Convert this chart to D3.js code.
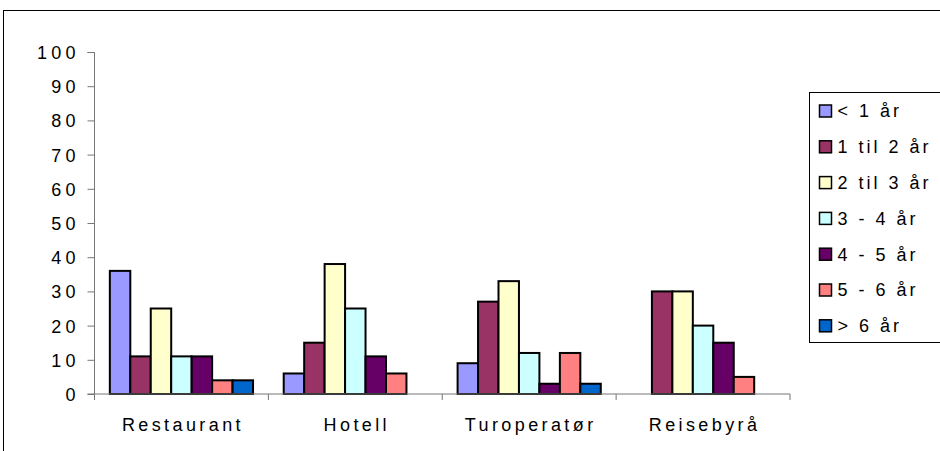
<!DOCTYPE html>
<html>
<head>
<meta charset="utf-8">
<script src="https://cdn.jsdelivr.net/npm/d3@7/dist/d3.min.js"></script>
<style>
  html, body { margin: 0; padding: 0; background: #fff; }
  svg { display: block; }
  text { font-family: "Liberation Sans", Arial, sans-serif; fill: #000; }
</style>
</head>
<body>
<svg id="chart" width="940" height="451"></svg>
<script>
// Categories and series (share in percent per time span)
const categories = ["Restaurant", "Hotell", "Turoperatør", "Reisebyrå"];
const seriesNames = ["< 1 år", "1 til 2 år", "2 til 3 år", "3 - 4 år", "4 - 5 år", "5 - 6 år", "> 6 år"];
const seriesColors = ["#9999FF", "#993366", "#FFFFCC", "#CCFFFF", "#660066", "#FF8080", "#0066CC"];
const lessThan1 = [36, 6, 9, 0];
const from1to2 = [11, 15, 27, 30];
const from2to3 = [25, 38, 33, 30];
const from3to4 = [11, 25, 12, 20];
const from4to5 = [11, 11, 3, 15];
const from5to6 = [4, 6, 12, 5];
const moreThan6 = [4, 0, 3, 0];
const yTicks = [0, 10, 20, 30, 40, 50, 60, 70, 80, 90, 100];

const seriesValues = [lessThan1, from1to2, from2to3, from3to4, from4to5, from5to6, moreThan6];

const svg = d3.select("#chart");

// Outer chart frame
svg.append("rect")
  .attr("x", 3.5).attr("y", 10.5)
  .attr("width", 1000).attr("height", 500)
  .attr("fill", "#fff").attr("stroke", "#000").attr("stroke-width", 1);

const plot = { left: 94.5, right: 790, top: 52, bottom: 394 };

const x0 = d3.scaleBand().domain(categories).range([plot.left, plot.right]);
// 150% gap between groups: 7 bars plus 0.75 bar width on each side
const x1 = d3.scaleBand().domain(d3.range(seriesNames.length))
  .range([0, x0.bandwidth()]).paddingInner(0).paddingOuter(0.75);
const y = d3.scaleLinear().domain([0, 100]).range([plot.bottom, plot.top]);

// Bars
const groups = svg.append("g").selectAll("g")
  .data(categories)
  .join("g")
  .attr("transform", d => `translate(${x0(d)},0)`);

groups.selectAll("rect")
  .data((c, ci) => seriesValues.map((vals, si) => ({ si, v: vals[ci] })).filter(d => d.v > 0))
  .join("rect")
  .attr("x", d => x1(d.si))
  .attr("y", d => y(d.v))
  .attr("width", x1.bandwidth())
  .attr("height", d => y(0) - y(d.v))
  .attr("fill", d => seriesColors[d.si])
  .attr("stroke", "#000")
  .attr("stroke-width", 2);

// Y axis
const yAxis = d3.axisLeft(y).tickValues(yTicks).tickSize(7).tickPadding(12);
const gy = svg.append("g").attr("transform", `translate(${plot.left},0)`).call(yAxis);
gy.select(".domain").attr("stroke", "#777").attr("d", `M-7,${plot.top + 0.5}H0V${plot.bottom}`);
gy.selectAll(".tick line").attr("stroke", "#777");
gy.selectAll(".tick text")
  .style("font-size", "18px")
  .style("letter-spacing", "4.3px")
  .attr("dx", "4.3px")
  .attr("dy", "0.36em");

// X axis with ticks at category boundaries
const gx = svg.append("g").attr("transform", `translate(0,${plot.bottom})`);
gx.append("line")
  .attr("x1", plot.left - 7).attr("x2", plot.right)
  .attr("stroke", "#777");
const bounds = categories.map(c => x0(c)).concat([plot.right]);
gx.selectAll("line.b").data(bounds).join("line").attr("class", "b")
  .attr("x1", d => d).attr("x2", d => d)
  .attr("y1", 0).attr("y2", 6)
  .attr("stroke", "#777");
gx.selectAll("text").data(categories).join("text")
  .attr("x", d => x0(d) + x0.bandwidth() / 2 + 1.5)
  .attr("y", 37)
  .attr("text-anchor", "middle")
  .style("font-size", "18px")
  .style("letter-spacing", "3.4px")
  .text(d => d);

// Legend
const lg = svg.append("g");
lg.append("rect")
  .attr("x", 809.5).attr("y", 92.5)
  .attr("width", 200).attr("height", 250)
  .attr("fill", "#fff").attr("stroke", "#000").attr("stroke-width", 1);
const items = lg.selectAll("g.item").data(seriesNames).join("g").attr("class", "item")
  .attr("transform", (d, i) => `translate(819.5,${111 + i * 35.8})`);
items.append("rect")
  .attr("x", 0).attr("y", -6)
  .attr("width", 12).attr("height", 12)
  .attr("fill", (d, i) => seriesColors[i])
  .attr("stroke", "#000").attr("stroke-width", 1.5);
items.append("text")
  .attr("x", 18).attr("y", 0).attr("dy", "0.36em")
  .style("font-size", "18px")
  .style("letter-spacing", "3px")
  .text(d => d);
</script>
</body>
</html>
